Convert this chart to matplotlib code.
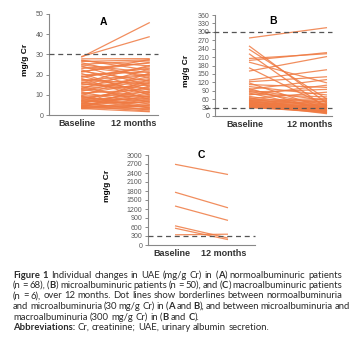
import matplotlib
matplotlib.use("Agg")
import matplotlib.pyplot as plt

# UAE (mg/g Cr) per patient, baseline and after 12 months
categories = ["Baseline", "12 months"]

a_base = [28.6, 28.9, 27.8, 27.2, 26.5, 25.9, 25.1, 24.3, 23.8, 23.0,
          22.4, 21.7, 21.2, 20.6, 19.8, 19.3, 18.7, 18.1, 17.6, 17.0,
          16.4, 15.9, 15.3, 14.8, 14.2, 13.7, 13.1, 12.6, 12.2, 11.7,
          11.3, 10.8, 10.4, 9.9, 9.5, 9.1, 8.7, 8.4, 8.0, 7.7,
          7.3, 7.0, 6.7, 6.4, 6.1, 5.8, 5.6, 5.3, 5.1, 4.9,
          4.7, 4.5, 4.3, 4.1, 3.9, 3.7, 3.6, 3.4, 3.2, 3.1,
          12.9, 15.6, 18.9, 21.5, 9.3, 6.9, 24.8, 26.9]
a_end = [45.8, 38.8, 27.9, 22.1, 27.3, 18.4, 26.8, 14.2, 19.6, 25.7,
         12.3, 16.8, 27.5, 9.8, 21.4, 11.0, 23.9, 7.6, 15.3, 20.2,
         10.5, 24.6, 13.1, 18.0, 6.2, 17.2, 22.8, 8.9, 14.9, 19.1,
         5.3, 12.7, 16.1, 9.2, 20.8, 4.4, 11.6, 7.1, 13.8, 3.6,
         10.1, 15.8, 5.9, 8.3, 2.4, 12.0, 6.6, 17.7, 4.0, 9.5,
         3.1, 7.9, 1.9, 11.2, 5.1, 2.8, 14.5, 6.9, 1.6, 4.7,
         16.5, 19.9, 23.2, 26.1, 3.4, 8.6, 21.0, 24.3]

b_base = [278, 250, 238, 222, 205, 198, 192, 172, 160, 128,
          122, 118, 112, 105, 98, 95, 92, 88, 85, 82,
          78, 75, 70, 66, 62, 60, 58, 56, 55, 53,
          51, 50, 48, 47, 45, 44, 42, 41, 40, 39,
          38, 37, 36, 35, 34, 33, 33, 32, 31, 30]
b_end = [315, 45, 60, 28, 222, 226, 118, 35, 212, 165,
         140, 25, 102, 75, 18, 130, 55, 40, 95, 22,
         68, 110, 30, 12, 85, 50, 38, 20, 62, 15,
         45, 33, 58, 10, 27, 42, 35, 8, 52, 24,
         30, 18, 40, 14, 26, 36, 20, 12, 28, 16]

c_base = [2690, 1760, 1300, 640, 560, 340]
c_end = [2350, 1240, 820, 230, 180, 360]

a_ticks = [0, 10, 20, 30, 40, 50]
b_ticks = [0, 30, 60, 90, 120, 150, 180, 210, 240, 270, 300, 330, 360]
c_ticks = [0, 300, 600, 900, 1200, 1500, 1800, 2100, 2400, 2700, 3000]

caption = [
    "**Figure 1** Individual changes in UAE (mg/g Cr) in (**A**) normoalbuminuric patients",
    "(n = 68), (**B**) microalbuminuric patients (n = 50), and (**C**) macroalbuminuric patients",
    "(n = 6), over 12 months. Dot lines show borderlines between normoalbuminuria",
    "and microalbuminuria (30 mg/g Cr) in (**A** and **B**), and between microalbuminuria and",
    "macroalbuminuria (300 mg/g Cr) in (**B** and **C**).",
    "**Abbreviations:** Cr, creatinine; UAE, urinary albumin secretion.",
]

LINE = "#EF7A42"
W, H = 353, 351

plt.rcParams["font.family"] = ["Liberation Sans", "DejaVu Sans"]
fig = plt.figure(figsize=(W / 100, H / 100), dpi=100)


def panel(rect, base, end, ticks, title, refs, xlim, tickpos, ref_start=0.0,
          title_y=0.93, ylab_y=0.5, ylab_x=-0.22):
    ax = fig.add_axes([rect[0] / W, 1 - rect[3] / H, (rect[2] - rect[0]) / W,
                       (rect[3] - rect[1]) / H])
    for b, e in zip(base, end):
        ax.plot([0, 1], [b, e], color=LINE, lw=0.9, alpha=0.85,
                solid_capstyle="butt")
    for r in refs:
        ax.axhline(r, xmin=ref_start, xmax=1, color="#555555", lw=0.9,
                   ls=(0, (4, 3)), clip_on=False, zorder=3)
    ax.set_xlim(*xlim)
    ax.set_ylim(ticks[0], ticks[-1])
    ax.set_yticks(ticks)
    ax.set_xticks(tickpos)
    ax.set_xticklabels(categories, fontsize=6.5, fontweight="bold", color="#333333")
    ax.tick_params(axis="x", length=0, pad=3)
    ax.tick_params(axis="y", labelsize=5, labelcolor="#595959", length=2.5,
                   width=0.6, color="#777777", pad=1.5)
    for s in ["top", "right"]:
        ax.spines[s].set_visible(False)
    for s in ["left", "bottom"]:
        ax.spines[s].set_color("#888888")
        ax.spines[s].set_linewidth(0.8)
    ax.text(0.5, title_y, title, transform=ax.transAxes,
            ha="center", va="center", fontsize=7.5, fontweight="bold")
    ax.text(ylab_x, ylab_y, "mg/g Cr", transform=ax.transAxes, rotation=90,
            ha="center", va="center", fontsize=6, fontweight="bold")
    return ax


# rect given in pixels: left, top, right, bottom
panel((49, 14, 158, 115), a_base, a_end, a_ticks, "A", [30],
      (-0.47, 1.12), [-0.06, 0.76], title_y=0.92, ylab_y=0.55, ylab_x=-0.22)
panel((215, 15, 332, 116), b_base, b_end, b_ticks, "B", [30, 300],
      (-0.436, 1.064), [-0.05, 0.78], ref_start=-0.085, title_y=0.94,
      ylab_y=0.45, ylab_x=-0.24)
panel((148, 155, 255, 245), c_base, c_end, c_ticks, "C", [300],
      (-0.51, 1.51), [-0.06, 0.92], title_y=1.0, ylab_y=0.66, ylab_x=-0.38)


# caption, justified word by word
def parse(line):
    words = [[]]
    for k, part in enumerate(line.split("**")):
        bold = k % 2 == 1
        for j, p in enumerate(part.split(" ")):
            if j > 0:
                words.append([])
            if p:
                words[-1].append((p, bold))
    return [w for w in words if w]


renderer = fig.canvas.get_renderer()
left, right = 13, 342
fs = 6.8
cap_font = ["Lato", "DejaVu Sans"]


def width(s, bold):
    t = fig.text(0, 0, s, fontsize=fs, family=cap_font,
                 fontweight="bold" if bold else "normal")
    w = t.get_window_extent(renderer).width
    t.remove()
    return w


space = width("a b", False) - width("ab", False)
for i, line in enumerate(caption):
    y = 275 + i * 10.5
    words = parse(line)
    widths = [[width(s, b) for s, b in w] for w in words]
    total = sum(sum(w) for w in widths)
    justify = i not in (4, 5)
    gap = (right - left - total) / (len(words) - 1) if justify else space
    gap = max(gap, 0.7 * space)
    x = left
    for w, ws in zip(words, widths):
        for (s, b), sw in zip(w, ws):
            fig.text(x / W, 1 - y / H, s, fontsize=fs, family=cap_font,
                     fontweight="bold" if b else "normal", color="#2a2a2a",
                     va="center", ha="left")
            x += sw
        x += gap

fig.savefig("out.png", dpi=100)
